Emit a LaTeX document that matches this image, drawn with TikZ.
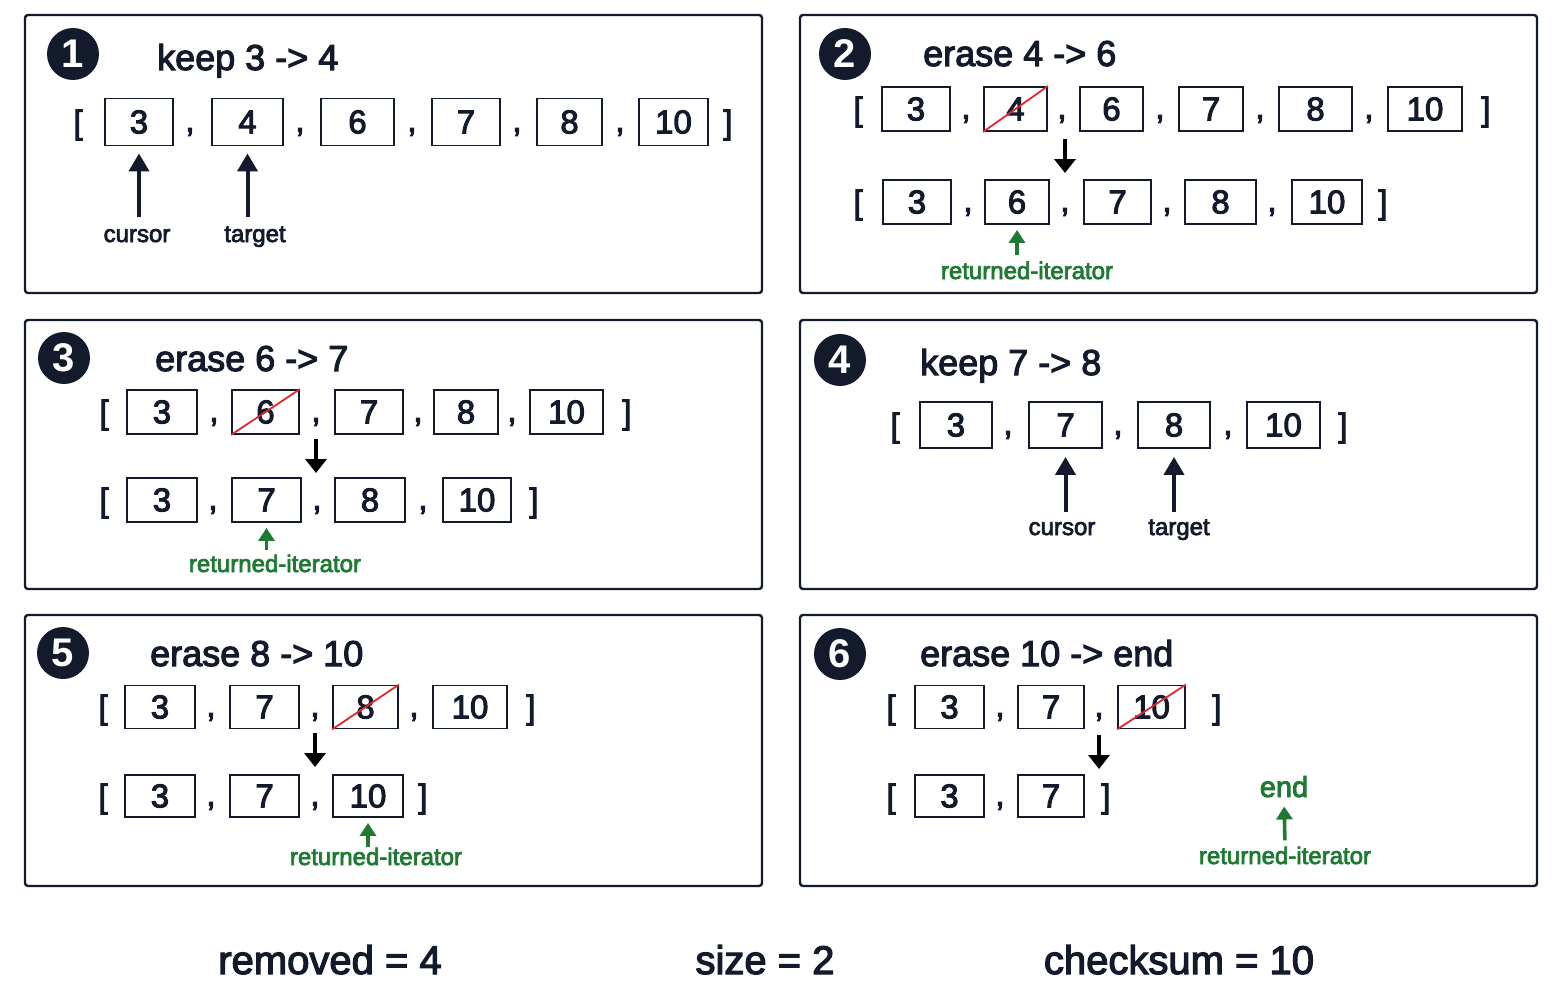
\documentclass[tikz,border=0pt]{standalone}
\usepackage{fontspec}
\setmainfont{Liberation Sans}
\newfontfamily\md{Liberation Sans}[FakeBold=3]
\usetikzlibrary{arrows.meta}
\definecolor{ink}{HTML}{121A2B}
\definecolor{grn}{HTML}{1E7A32}
\definecolor{strike}{HTML}{E3262B}
\begin{document}
\begin{tikzpicture}[x=1pt,y=-1pt,
 panel/.style={draw=ink,line width=2.4pt,rounded corners=3pt},
 cell/.style={draw=ink,line width=1.9pt,inner sep=0pt,font=\md\fontsize{33}{33}\selectfont,text=ink},
 sym/.style={inner sep=0pt,font=\md\fontsize{33}{33}\selectfont,text=ink},
 badge/.style={circle,fill=ink,minimum size=52pt,inner sep=0pt,text=white,font=\bfseries\fontsize{40}{40}\selectfont},
 ttl/.style={anchor=base west,inner sep=0pt,font=\md\fontsize{36}{36}\selectfont,text=ink},
 lbl/.style={anchor=base,inner sep=0pt,font=\md\fontsize{24}{24}\selectfont,text=ink},
 glbl/.style={lbl,text=grn},
 ptr/.style={draw=ink,line width=4pt,-{Triangle[length=18pt,width=20pt]}},
 darr/.style={draw=black,line width=4pt,-{Triangle[length=14pt,width=21pt]}},
 garr/.style={draw=grn,line width=3.6pt,-{Triangle[length=13pt,width=16pt]}},
 cross/.style={draw=strike,line width=1.8pt},
 stat/.style={anchor=base,inner sep=0pt,font=\md\fontsize{40}{40}\selectfont,text=ink}]
\fill[white] (0,0) rectangle (1563,1006);
\useasboundingbox (0,0) rectangle (1563,1006);

% ---------- Panel 1
\draw[panel] (25,15) rectangle (762,293);
\node[badge] (n1) at (73,54) {1};
\node[ttl] (t1) at (157,70) {keep 3 -> 4};
\node[sym] (p1l) at (78,125) {[};
\node[cell,minimum width=68pt,minimum height=47pt] (b1a) at (139,122) {3};
\node[sym] (p1c1) at (190,132) {,};
\node[cell,minimum width=71pt,minimum height=47pt] (b1b) at (247.5,122) {4};
\node[sym] (p1c2) at (300,132) {,};
\node[cell,minimum width=73pt,minimum height=47pt] (b1c) at (357.5,122) {6};
\node[sym] (p1c3) at (412,132) {,};
\node[cell,minimum width=68pt,minimum height=47pt] (b1d) at (466,122) {7};
\node[sym] (p1c4) at (517,132) {,};
\node[cell,minimum width=65pt,minimum height=47pt] (b1e) at (569.5,122) {8};
\node[sym] (p1c5) at (620,132) {,};
\node[cell,minimum width=69pt,minimum height=47pt] (b1f) at (673.5,122) {10};
\node[sym] (p1r) at (728,125) {]};
\node[lbl] (cur1) at (137,242) {cursor};
\node[lbl] (tar1) at (255,242) {target};
\draw[ptr,shorten >=7pt] (b1a.south) ++(0,71) -- (b1a.south);
\draw[ptr,shorten >=7pt] (b1b.south) ++(0,71) -- (b1b.south);

% ---------- Panel 2
\draw[panel] (800,15) rectangle (1537,293);
\node[badge] (n2) at (845,54) {2};
\node[ttl] (t2) at (923,66) {erase 4 -> 6};
\node[sym] (p2l) at (858,112) {[};
\node[cell,minimum width=68pt,minimum height=44pt] (b2a) at (916,109) {3};
\node[sym] (p2c1) at (966,119) {,};
\node[cell,minimum width=63pt,minimum height=44pt] (b2b) at (1015.5,109) {4};
\node[sym] (p2c2) at (1062,119) {,};
\node[cell,minimum width=63pt,minimum height=44pt] (b2c) at (1111.5,109) {6};
\node[sym] (p2c3) at (1160,119) {,};
\node[cell,minimum width=64pt,minimum height=44pt] (b2d) at (1211,109) {7};
\node[sym] (p2c4) at (1260,119) {,};
\node[cell,minimum width=73pt,minimum height=44pt] (b2e) at (1315.5,109) {8};
\node[sym] (p2c5) at (1369,119) {,};
\node[cell,minimum width=74pt,minimum height=44pt] (b2f) at (1425,109) {10};
\node[sym] (p2r) at (1486,112) {]};
\draw[cross] (b2b.south west) -- (b2b.north east);
\coordinate (d2s) at (1065,139);
\coordinate (d2e) at (1065,173);
\draw[darr] (d2s) -- (d2e);
\node[sym] (p2l2) at (858,205) {[};
\node[cell,minimum width=68pt,minimum height=44pt] (b2g) at (917,202) {3};
\node[sym] (p2c6) at (968,212) {,};
\node[cell,minimum width=64pt,minimum height=44pt] (b2h) at (1017,202) {6};
\node[sym] (p2c7) at (1065,212) {,};
\node[cell,minimum width=67pt,minimum height=44pt] (b2i) at (1117.5,202) {7};
\node[sym] (p2c8) at (1167,212) {,};
\node[cell,minimum width=71pt,minimum height=44pt] (b2j) at (1220.5,202) {8};
\node[sym] (p2c9) at (1272,212) {,};
\node[cell,minimum width=70pt,minimum height=44pt] (b2k) at (1327,202) {10};
\node[sym] (p2r2) at (1383,205) {]};
\node[glbl] (r2) at (1027,279) {returned-iterator};
\draw[garr,shorten >=5pt] (b2h.south) ++(0,30) -- (b2h.south);

% ---------- Panel 3
\draw[panel] (25,320) rectangle (762,589);
\node[badge] (n3) at (64,358) {3};
\node[ttl] (t3) at (155,371) {erase 6 -> 7};
\node[sym] (p3l) at (104,415) {[};
\node[cell,minimum width=70pt,minimum height=44pt] (b3a) at (162,412) {3};
\node[sym] (p3c1) at (214,422) {,};
\node[cell,minimum width=67pt,minimum height=44pt] (b3b) at (265.5,412) {6};
\node[sym] (p3c2) at (316,422) {,};
\node[cell,minimum width=68pt,minimum height=44pt] (b3c) at (369,412) {7};
\node[sym] (p3c3) at (418,422) {,};
\node[cell,minimum width=64pt,minimum height=44pt] (b3d) at (466,412) {8};
\node[sym] (p3c4) at (512,422) {,};
\node[cell,minimum width=73pt,minimum height=44pt] (b3e) at (566.5,412) {10};
\node[sym] (p3r) at (627,415) {]};
\draw[cross] (b3b.south west) -- (b3b.north east);
\coordinate (d3s) at (316,439);
\coordinate (d3e) at (316,473);
\draw[darr] (d3s) -- (d3e);
\node[sym] (p3l2) at (104,503) {[};
\node[cell,minimum width=70pt,minimum height=44pt] (b3f) at (162,500) {3};
\node[sym] (p3c5) at (213,510) {,};
\node[cell,minimum width=69pt,minimum height=44pt] (b3g) at (266.5,500) {7};
\node[sym] (p3c6) at (317,510) {,};
\node[cell,minimum width=70pt,minimum height=44pt] (b3h) at (370,500) {8};
\node[sym] (p3c7) at (423,510) {,};
\node[cell,minimum width=68pt,minimum height=44pt] (b3i) at (477,500) {10};
\node[sym] (p3r2) at (534,503) {]};
\node[glbl] (r3) at (275,572) {returned-iterator};
\draw[garr,shorten >=5pt] (b3g.south) ++(0,27) -- (b3g.south);

% ---------- Panel 4
\draw[panel] (800,320) rectangle (1537,589);
\node[badge] (n4) at (840,360) {4};
\node[ttl] (t4) at (920,375) {keep 7 -> 8};
\node[sym] (p4l) at (895,428) {[};
\node[cell,minimum width=72pt,minimum height=46pt] (b4a) at (956,425) {3};
\node[sym] (p4c1) at (1008,435) {,};
\node[cell,minimum width=73pt,minimum height=46pt] (b4b) at (1065.5,425) {7};
\node[sym] (p4c2) at (1118,435) {,};
\node[cell,minimum width=72pt,minimum height=46pt] (b4c) at (1174,425) {8};
\node[sym] (p4c3) at (1228,435) {,};
\node[cell,minimum width=73pt,minimum height=46pt] (b4d) at (1283.5,425) {10};
\node[sym] (p4r) at (1343,428) {]};
\node[lbl] (cur4) at (1062,535) {cursor};
\node[lbl] (tar4) at (1179,535) {target};
\draw[ptr,shorten >=8pt] (b4b.south) ++(0,63) -- (b4b.south);
\draw[ptr,shorten >=8pt] (b4c.south) ++(0,63) -- (b4c.south);

% ---------- Panel 5
\draw[panel] (25,615) rectangle (762,886);
\node[badge] (n5) at (63,653) {5};
\node[ttl] (t5) at (150,666) {erase 8 -> 10};
\node[sym] (p5l) at (103,710) {[};
\node[cell,minimum width=70pt,minimum height=43pt] (b5a) at (160,707) {3};
\node[sym] (p5c1) at (211,717) {,};
\node[cell,minimum width=69pt,minimum height=43pt] (b5b) at (264.5,707) {7};
\node[sym] (p5c2) at (315,717) {,};
\node[cell,minimum width=65pt,minimum height=43pt] (b5c) at (365.5,707) {8};
\node[sym] (p5c3) at (414,717) {,};
\node[cell,minimum width=74pt,minimum height=43pt] (b5d) at (470,707) {10};
\node[sym] (p5r) at (531,710) {]};
\draw[cross] (b5c.south west) -- (b5c.north east);
\coordinate (d5s) at (315,733);
\coordinate (d5e) at (315,767);
\draw[darr] (d5s) -- (d5e);
\node[sym] (p5l2) at (103,799) {[};
\node[cell,minimum width=70pt,minimum height=42pt] (b5e) at (160,796) {3};
\node[sym] (p5c4) at (211,806) {,};
\node[cell,minimum width=69pt,minimum height=42pt] (b5f) at (264.5,796) {7};
\node[sym] (p5c5) at (315,806) {,};
\node[cell,minimum width=70pt,minimum height=42pt] (b5g) at (368,796) {10};
\node[sym] (p5r2) at (423,799) {]};
\node[glbl] (r5) at (376,865) {returned-iterator};
\draw[garr,shorten >=5pt] (b5g.south) ++(0,29) -- (b5g.south);

% ---------- Panel 6
\draw[panel] (800,615) rectangle (1537,886);
\node[badge] (n6) at (840,654) {6};
\node[ttl] (t6) at (920,666) {erase 10 -> end};
\node[sym] (p6l) at (891,710) {[};
\node[cell,minimum width=69pt,minimum height=43pt] (b6a) at (949.5,707) {3};
\node[sym] (p6c1) at (1000,717) {,};
\node[cell,minimum width=66pt,minimum height=43pt] (b6b) at (1051,707) {7};
\node[sym] (p6c2) at (1099,717) {,};
\node[cell,minimum width=67pt,minimum height=43pt] (b6c) at (1151.5,707) {10};
\node[sym] (p6r) at (1217,710) {]};
\draw[cross] (b6c.south west) -- (b6c.north east);
\coordinate (d6s) at (1099,735);
\coordinate (d6e) at (1099,769);
\draw[darr] (d6s) -- (d6e);
\node[sym] (p6l2) at (891,799) {[};
\node[cell,minimum width=69pt,minimum height=42pt] (b6d) at (949.5,796) {3};
\node[sym] (p6c3) at (1000,806) {,};
\node[cell,minimum width=66pt,minimum height=42pt] (b6e) at (1051,796) {7};
\node[sym] (p6r2) at (1106,799) {]};
\node[glbl,font=\md\fontsize{29}{29}\selectfont] (e6) at (1284,797) {end};
\node[glbl] (r6) at (1285,864) {returned-iterator};
\draw[garr,shorten <=6pt,shorten >=9pt] (r6.north) -- (e6.south);

% ---------- Summary
\node[stat] (s1) at (330,974) {removed = 4};
\node[stat] (s2) at (765,974) {size = 2};
\node[stat] (s3) at (1179,974) {checksum = 10};
\end{tikzpicture}
\end{document}
